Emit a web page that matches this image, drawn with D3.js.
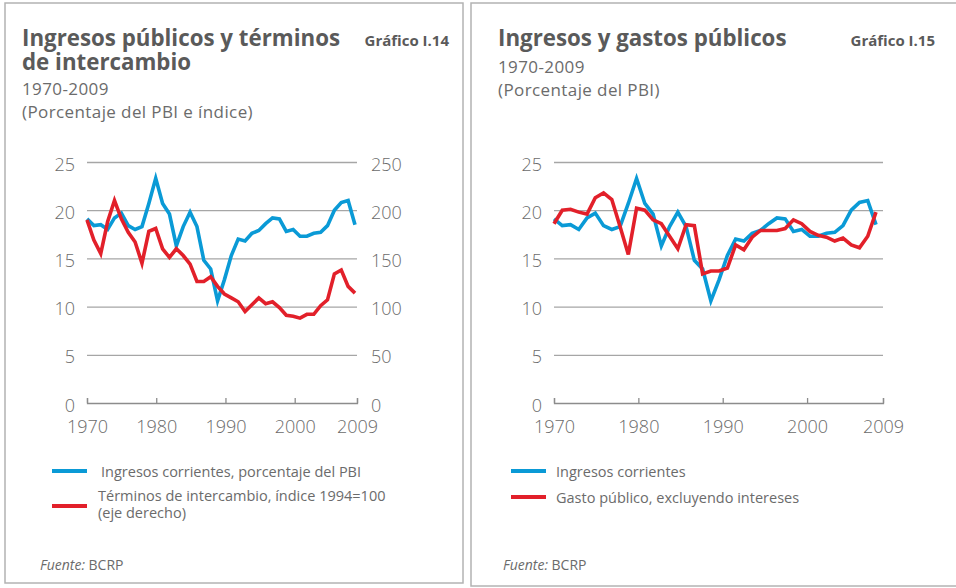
<!DOCTYPE html>
<html>
<head>
<meta charset="utf-8">
<script src="https://cdn.jsdelivr.net/npm/d3@7"></script>
<style>
  body { margin: 0; background: #fff; }
  svg { font-family: "Open Sans", "Noto Sans", sans-serif; }
</style>
</head>
<body>
<svg id="chart" width="956" height="588"></svg>
<script>
// years of the series
const years = [1970, 1971, 1972, 1973, 1974, 1975, 1976, 1977, 1978, 1979,
  1980, 1981, 1982, 1983, 1984, 1985, 1986, 1987, 1988, 1989,
  1990, 1991, 1992, 1993, 1994, 1995, 1996, 1997, 1998, 1999,
  2000, 2001, 2002, 2003, 2004, 2005, 2006, 2007, 2008, 2009];

// Ingresos corrientes (% del PBI)
const ingresos = [19.1, 18.4, 18.5, 18.0, 19.2, 19.7, 18.4, 18.0, 18.3, 20.7,
  23.3, 20.7, 19.6, 16.3, 18.3, 19.8, 18.3, 14.8, 13.9, 10.6,
  12.8, 15.3, 17.0, 16.8, 17.6, 17.9, 18.6, 19.2, 19.1, 17.8,
  18.0, 17.3, 17.3, 17.6, 17.7, 18.4, 20.0, 20.8, 21.0, 18.5];

// Terminos de intercambio (indice 1994=100, eje derecho)
const terminos = [190, 169, 155, 188, 210, 191, 177, 167, 145, 178,
  181, 160, 151, 160, 153, 144, 126, 126, 131, 121,
  113, 109, 105, 95, 102, 109, 103, 105, 99, 91,
  90, 88, 92, 92, 101, 107, 134, 138, 121, 114];

// Gasto publico, excluyendo intereses (% del PBI)
const gasto = [18.6, 20.0, 20.1, 19.8, 19.6, 21.3, 21.8, 21.1, 18.3, 15.4,
  20.2, 20.0, 19.0, 18.6, 17.3, 16.0, 18.5, 18.4, 13.4, 13.7,
  13.7, 14.0, 16.4, 15.9, 17.2, 17.9, 17.9, 17.9, 18.1, 19.0,
  18.6, 17.8, 17.4, 17.2, 16.8, 17.1, 16.4, 16.1, 17.3, 19.8];

const leftTicks = [0, 5, 10, 15, 20, 25];
const rightTicks = [0, 50, 100, 150, 200, 250];
const xTicks = [1970, 1980, 1990, 2000, 2009];

const blue = '#0a9ad6';
const red = '#e2202a';
const textColor = '#6b6b6b';
const titleColor = '#5a5a5a';
const gridColor = '#a6a6a6';

const svg = d3.select('#chart');

// panel frames
svg.append('rect')
  .attr('x', 5).attr('y', 3).attr('width', 458).attr('height', 580)
  .attr('fill', 'none').attr('stroke', '#b3b3b3').attr('stroke-width', 1.5);
svg.append('rect')
  .attr('x', 471).attr('y', 3).attr('width', 490).attr('height', 583)
  .attr('fill', 'none').attr('stroke', '#b3b3b3').attr('stroke-width', 1.5);

function header(g, x, right, title, code, subtitle, subY) {
  title.forEach((t, i) => {
    g.append('text')
      .attr('x', x).attr('y', 46 + i * 24)
      .attr('font-size', 22.3).attr('font-weight', 'bold')
      .attr('fill', titleColor)
      .text(t);
  });
  g.append('text')
    .attr('x', right).attr('y', 46)
    .attr('text-anchor', 'end')
    .attr('font-size', 15).attr('font-weight', 'bold')
    .attr('fill', titleColor)
    .text(code);
  subtitle.forEach((t, i) => {
    g.append('text')
      .attr('x', x).attr('y', subY + i * 23)
      .attr('font-size', 17).attr('letter-spacing', 0.4)
      .attr('fill', textColor)
      .text(t);
  });
}

function legend(g, x, items) {
  items.forEach(it => {
    g.append('line')
      .attr('x1', x).attr('x2', x + 35)
      .attr('y1', it.ly).attr('y2', it.ly)
      .attr('stroke', it.color).attr('stroke-width', 4);
    it.lines.forEach((t, i) => {
      g.append('text')
        .attr('x', x + it.dx).attr('y', it.ty + i * 17)
        .attr('font-size', 14.5)
        .attr('fill', textColor)
        .text(t);
    });
  });
}

function source(g, x) {
  const t = g.append('text')
    .attr('x', x).attr('y', 570)
    .attr('font-size', 14)
    .attr('fill', textColor);
  t.append('tspan').attr('font-style', 'italic').text('Fuente:');
  t.append('tspan').text(' BCRP');
}

function panel(opts) {
  const g = svg.append('g');
  const xscale = d3.scaleLinear().domain([1970, 2009]).range(opts.xRange);
  const yscale = d3.scaleLinear().domain([0, 25]).range([403, 162]);

  // gridlines
  g.append('g')
    .attr('transform', 'translate(' + opts.xRange[0] + ',0)')
    .call(d3.axisLeft(yscale).tickValues(leftTicks.slice(1))
      .tickSize(-(opts.gridEnd - opts.xRange[0])).tickFormat(''))
    .call(a => a.select('.domain').remove())
    .call(a => a.selectAll('line').attr('stroke', gridColor).attr('stroke-width', 1.3));

  // left labels
  g.append('g')
    .attr('transform', 'translate(' + opts.xRange[0] + ',0)')
    .call(d3.axisLeft(yscale).tickValues(leftTicks).tickSize(0).tickPadding(12))
    .call(a => a.select('.domain').remove())
    .call(a => a.selectAll('text')
      .attr('font-size', 18).attr('font-family', '"Open Sans", sans-serif')
      .attr('font-weight', 300).attr('fill', textColor).attr('dy', '0.45em'));

  if (opts.right) {
    const y2 = d3.scaleLinear().domain([0, 250]).range([403, 162]);
    g.append('g')
      .attr('transform', 'translate(' + opts.gridEnd + ',0)')
      .call(d3.axisRight(y2).tickValues(rightTicks).tickSize(0).tickPadding(14))
      .call(a => a.select('.domain').remove())
      .call(a => a.selectAll('text')
        .attr('font-size', 18).attr('font-family', '"Open Sans", sans-serif')
        .attr('font-weight', 300).attr('fill', textColor).attr('dy', '0.45em'));
    opts.y2 = y2;
  }

  // x axis
  const xaxisScale = d3.scaleLinear().domain([1970, 2009]).range([opts.xRange[0], opts.gridEnd]);
  g.append('g')
    .attr('transform', 'translate(0,403)')
    .call(d3.axisBottom(xaxisScale).tickValues(xTicks).tickFormat(d3.format('d'))
      .tickSizeInner(-5).tickSizeOuter(-5).tickPadding(17))
    .call(a => a.selectAll('line, path').attr('stroke', '#8c8c8c').attr('stroke-width', 1.3))
    .call(a => a.selectAll('text')
      .attr('font-size', 18).attr('font-family', '"Open Sans", sans-serif')
      .attr('font-weight', 300).attr('fill', textColor));

  opts.series.forEach(s => {
    const ys = s.axis === 'right' ? opts.y2 : yscale;
    const line = d3.line()
      .x((d, i) => xscale(years[i]))
      .y(d => ys(d));
    g.append('path')
      .datum(s.values)
      .attr('fill', 'none')
      .attr('stroke', s.color)
      .attr('stroke-width', 3.6)
      .attr('stroke-linejoin', 'miter')
      .attr('d', line);
  });
  return g;
}

// Grafico I.14
const g1 = panel({
  xRange: [87, 355], gridEnd: 357, right: true,
  series: [
    { values: ingresos, color: blue },
    { values: terminos, color: red, axis: 'right' }
  ]
});
header(g1, 22, 449, ['Ingresos públicos y términos', 'de intercambio'], 'Gráfico I.14',
  ['1970-2009', '(Porcentaje del PBI e índice)'], 95);
legend(g1, 52, [
  { color: blue, ly: 471, dx: 49, ty: 477, lines: ['Ingresos corrientes, porcentaje del PBI'] },
  { color: red, ly: 506, dx: 46, ty: 501, lines: ['Términos de intercambio, índice 1994=100', '(eje derecho)'] }
]);
source(g1, 40);

// Grafico I.15
const g2 = panel({
  xRange: [554, 876], gridEnd: 883, right: false,
  series: [
    { values: ingresos, color: blue },
    { values: gasto, color: red }
  ]
});
header(g2, 498, 935, ['Ingresos y gastos públicos'], 'Gráfico I.15',
  ['1970-2009', '(Porcentaje del PBI)'], 73);
legend(g2, 511, [
  { color: blue, ly: 471, dx: 45, ty: 477, lines: ['Ingresos corrientes'] },
  { color: red, ly: 497, dx: 45, ty: 503, lines: ['Gasto público, excluyendo intereses'] }
]);
source(g2, 503);
</script>
</body>
</html>
